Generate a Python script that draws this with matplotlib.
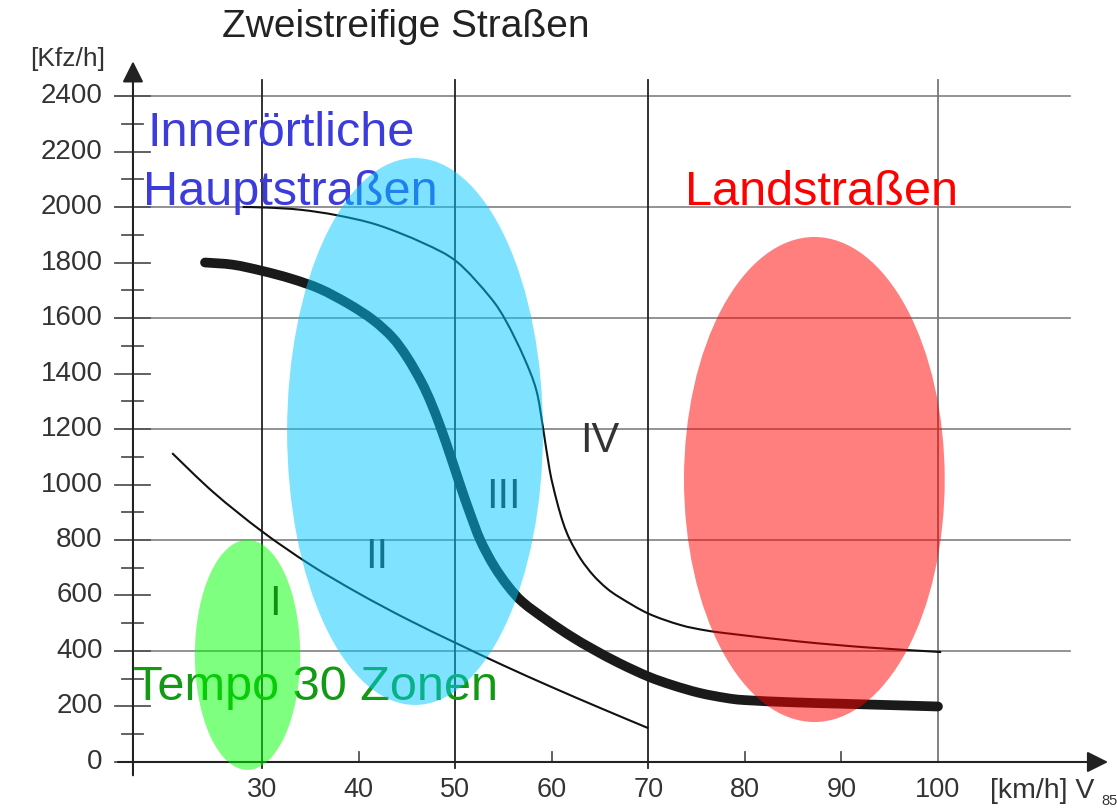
import matplotlib
matplotlib.use("Agg")
import matplotlib.pyplot as plt
from matplotlib.patches import Ellipse, PathPatch
from matplotlib.path import Path

plt.rcParams['font.family'] = ['Liberation Sans', 'DejaVu Sans']

# --- data ---
y_ticks = [0, 200, 400, 600, 800, 1000, 1200, 1400, 1600, 1800, 2000, 2200, 2400]
y_minor = [100, 300, 500, 700, 900, 1100, 1300, 1500, 1700, 1900, 2100, 2300]
x_ticks = [30, 40, 50, 60, 70, 80, 90, 100]
x_small_ticks = [40, 60, 80, 90]
h_grid = [400, 800, 1200, 1600, 2000, 2400]
v_grid_dark = [30, 50, 70]
v_grid_light = [100]

# thick curve (boundary II/III)
thick_x = [24.1, 27, 30, 33, 36, 39, 41.5, 43.5, 45, 46.5, 47.5, 48.5, 49.5, 50.5,
           51.5, 52.6, 54, 55.5, 57, 59.5, 62, 64.3, 67, 70, 72.5, 75.3, 78, 80,
           85, 90, 95, 100]
thick_y = [1800, 1792, 1770, 1742, 1705, 1650, 1593, 1530, 1460, 1370, 1295, 1205, 1105, 1000,
           900, 800, 708, 633, 576, 511, 453, 406, 356, 308, 277, 249, 231, 223,
           215, 210, 205, 200]

# upper thin curve (boundary III/IV)
upper_x = [28, 30.5, 34, 37.8, 42, 46.7, 50.2, 53.6, 55.3, 57.1, 58.4, 59.1, 59.8,
           60.5, 61.2, 61.9, 63, 64.3, 65.7, 67.1, 70, 73.3, 76, 78.8, 85.7, 92.6, 99.5, 100]
upper_y = [2000, 1998, 1990, 1970, 1935, 1870, 1802, 1676, 1587, 1460, 1341, 1205, 1050,
           944, 860, 800, 732, 673, 626, 592, 535, 494, 474, 461, 434, 413, 398, 397]

# lower thin curve (boundary I/II)
lower_x = [20.7, 25, 30, 35, 40, 45, 50, 55, 60, 65, 70]
lower_y = [1113, 971, 831, 711, 608, 515, 430, 348, 270, 195, 122]

# regions: (centre x, centre y, width, height, colour)
regions = [
    (28.5, 386, 10.9, 829, (0.0, 1.0, 0.0)),
    (45.85, 1191, 26.5, 1971, (0.0, 0.79, 1.0)),
    (87.2, 1018, 27.0, 1748, (1.0, 0.0, 0.0)),
]


def smooth_path(xs, ys):
    # Catmull-Rom through the read points, drawn as cubic Bezier segments
    pts = list(zip(xs, ys))
    verts = [pts[0]]
    codes = [Path.MOVETO]
    n = len(pts)
    for i in range(n - 1):
        p0 = pts[i - 1] if i > 0 else pts[i]
        p1 = pts[i]
        p2 = pts[i + 1]
        p3 = pts[i + 2] if i + 2 < n else pts[i + 1]
        c1 = (p1[0] + (p2[0] - p0[0]) / 6, p1[1] + (p2[1] - p0[1]) / 6)
        c2 = (p2[0] - (p3[0] - p1[0]) / 6, p2[1] - (p3[1] - p1[1]) / 6)
        verts += [c1, c2, p2]
        codes += [Path.CURVE4] * 3
    return Path(verts, codes)


fig = plt.figure(figsize=(11.17, 8.08), dpi=100)
ax = fig.add_axes([0, 0, 1, 1])
ax.set_xlim(2.87, 118.54)
ax.set_ylim(-165.8, 2746)
ax.axis('off')

axis_col = '#222222'
text_col = '#333333'

# grid
for g in h_grid:
    ax.plot([14.8, 113.7], [g, g], color='#8a8a8a', lw=1.3, zorder=1)
for g in v_grid_dark:
    ax.plot([g, g], [-20, 2458], color=axis_col, lw=1.3, zorder=1)
for g in v_grid_light:
    ax.plot([g, g], [0, 2458], color='#777777', lw=1.3, zorder=1)

# axes with arrows
ax.annotate('', xy=(117.9, 0), xytext=(14.8, 0),
            arrowprops=dict(arrowstyle='-|>', mutation_scale=32, lw=1.5, color=axis_col))
ax.annotate('', xy=(16.64, 2535), xytext=(16.64, -58),
            arrowprops=dict(arrowstyle='-|>', mutation_scale=32, lw=1.5, color=axis_col))

# ticks
for t in y_ticks:
    ax.plot([14.8, 18.4], [t, t], color='#555555', lw=1.3, zorder=2)
    ax.text(13.5, t, str(t), ha='right', va='center', fontsize=20, color=text_col)
for t in y_minor:
    ax.plot([15.5, 17.7], [t, t], color='#555555', lw=1.3, zorder=2)
for t in x_small_ticks:
    ax.plot([t, t], [0, 36], color='#555555', lw=1.3, zorder=2)
for t in x_ticks:
    ax.text(t, -101, str(t), ha='center', va='center', fontsize=19.5, color=text_col)

ax.text(105.4, -130, '[km/h] V', ha='left', va='baseline', fontsize=20.5, color=text_col)
ax.text(116.9, -154, '85', ha='left', va='baseline', fontsize=10.5, color=text_col)
ax.text(5.98, 2508, '[Kfz/h]', ha='left', va='baseline', fontsize=19, color=text_col)
ax.text(25.86, 2613, 'Zweistreifige Straßen', ha='left', va='baseline', fontsize=28, color='#222222')

# region labels (under the transparent ellipses)
ax.text(18.1, 2220, 'Innerörtliche', ha='left', va='baseline', fontsize=35, color='#3c3cdc', zorder=3)
ax.text(17.7, 2007, 'Hauptstraßen', ha='left', va='baseline', fontsize=35, color='#3c3cdc', zorder=3)
ax.text(16.6, 223, 'Tempo 30 Zonen', ha='left', va='baseline', fontsize=35, color='#129a12', zorder=3)
ax.text(73.8, 2007, 'Landstraßen', ha='left', va='baseline', fontsize=35, color='#ff0000', zorder=6)

ax.text(31.3, 530, 'I', ha='center', va='baseline', fontsize=30, color='#222222', zorder=3)
ax.text(41.9, 699, 'II', ha='center', va='baseline', fontsize=30, color='#222222', zorder=3)
ax.text(55.0, 915, 'III', ha='center', va='baseline', fontsize=30, color='#222222', zorder=3)
ax.text(65.0, 1117, 'IV', ha='center', va='baseline', fontsize=30, color='#333333', zorder=3)

# curves
ax.add_patch(PathPatch(smooth_path(upper_x, upper_y), fill=False, edgecolor='#111111',
                       lw=1.5, zorder=4))
ax.add_patch(PathPatch(smooth_path(lower_x, lower_y), fill=False, edgecolor='#111111',
                       lw=1.5, zorder=4))
ax.add_patch(PathPatch(smooth_path(thick_x, thick_y), fill=False, edgecolor='#1a1a1a',
                       lw=7, capstyle='round', joinstyle='round', zorder=4))

# transparent regions on top
for cx, cy, w, h, c in regions:
    ax.add_patch(Ellipse((cx, cy), w, h, facecolor=c, edgecolor='none', alpha=0.5, zorder=5))

fig.savefig('out.png', dpi=100)
